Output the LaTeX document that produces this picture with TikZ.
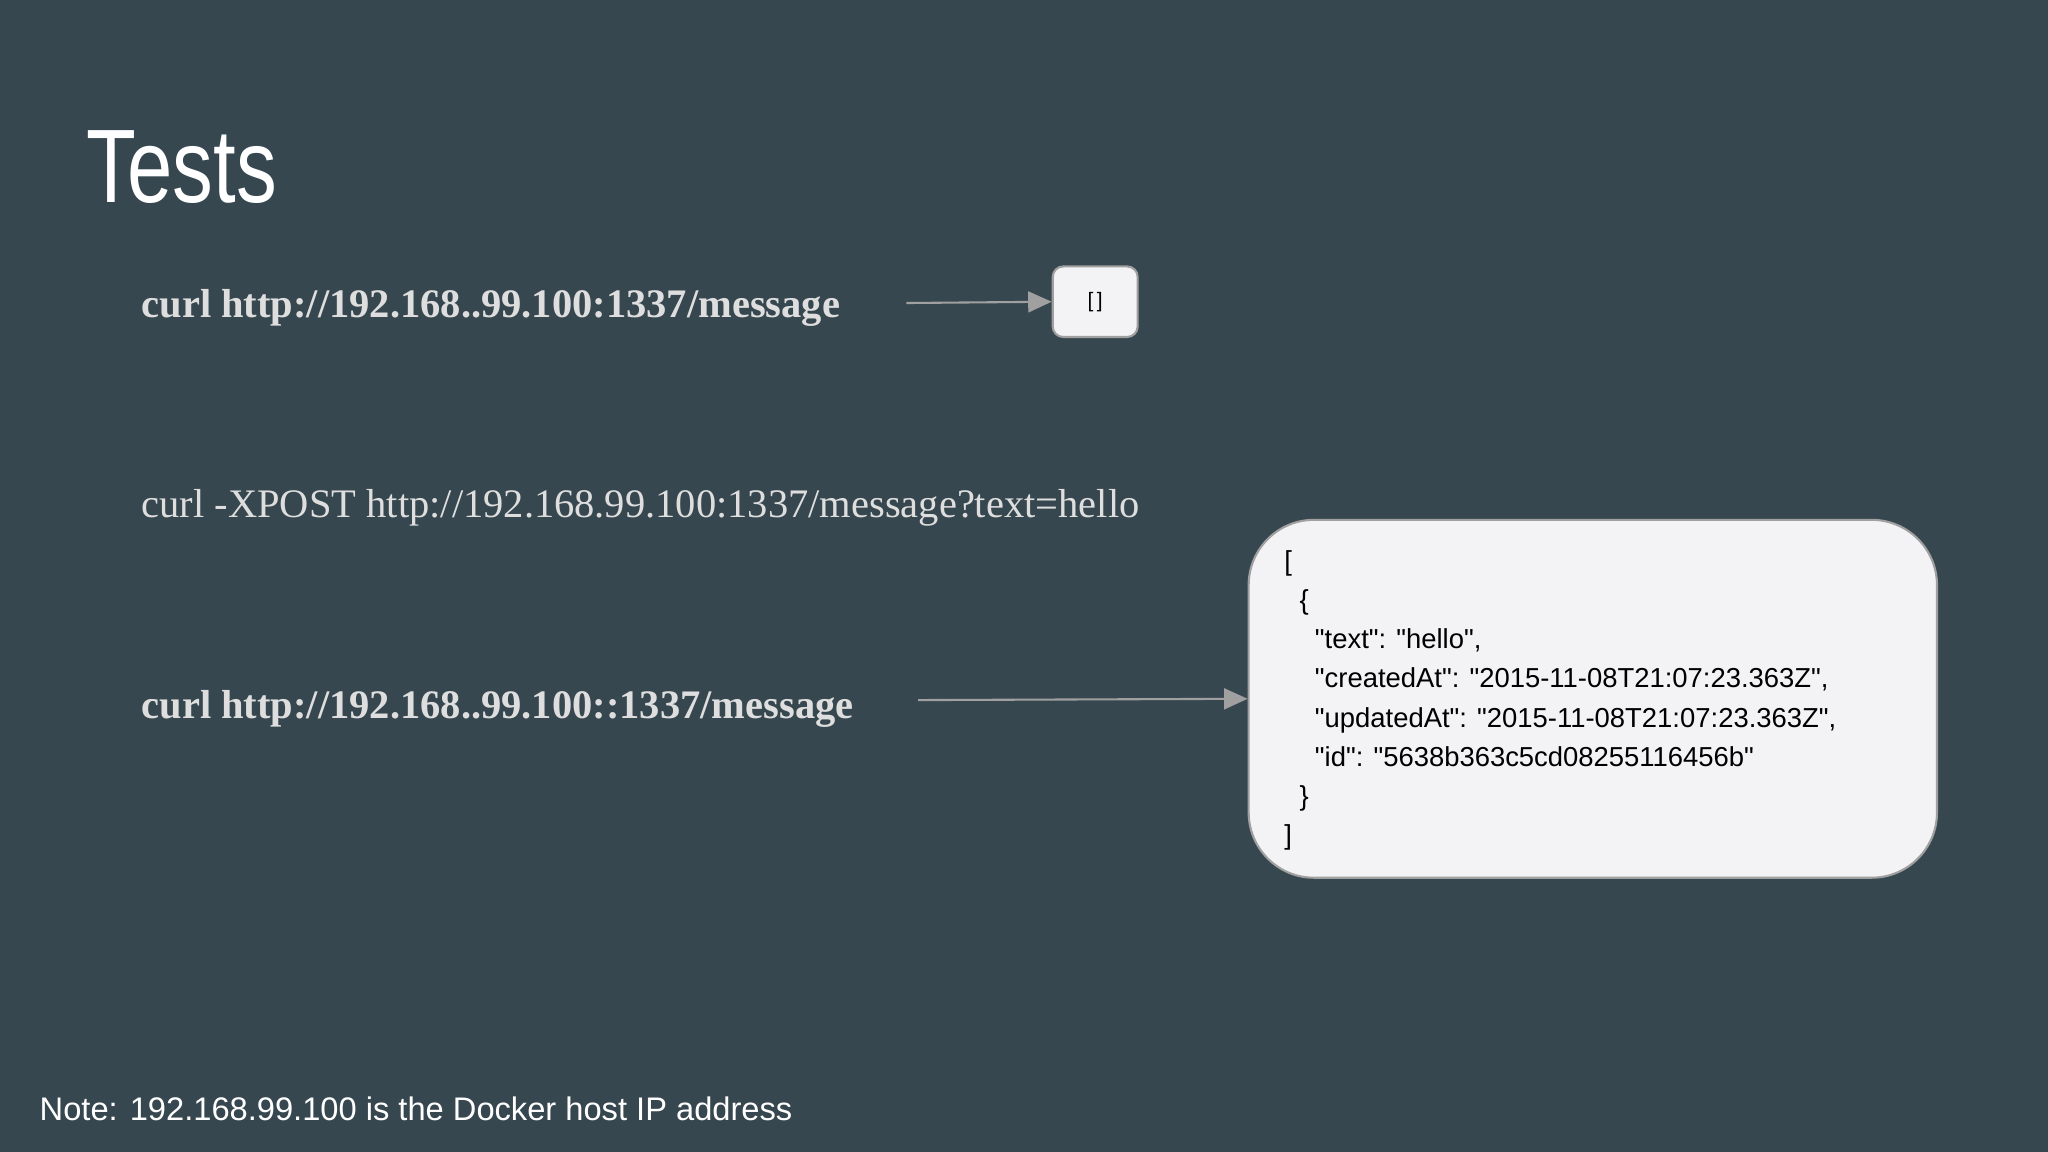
\documentclass[tikz,border=0pt]{standalone}
\usepackage{fontspec}
\setmainfont{Liberation Serif}
\newfontfamily\sansf{Liberation Sans}
\usetikzlibrary{arrows.meta}
\definecolor{bg}{RGB}{55,71,79}
\definecolor{boxfill}{RGB}{243,242,244}
\definecolor{curlc}{RGB}{222,222,222}
\definecolor{arr}{RGB}{160,160,160}
\tikzset{
 curl/.style={anchor=west,inner sep=0,text=curlc,font=\fontsize{15.5}{18}\selectfont},
 resp/.style={draw=arr,line width=0.8pt,fill=boxfill},
 conn/.style={draw=arr,line width=0.8pt,-{Triangle[length=9pt,width=8pt]}}
}
\begin{document}
\begin{tikzpicture}[x=0.5pt,y=-0.5pt]
\fill[bg] (0,0) rectangle (1568,882);
\useasboundingbox (0,0) rectangle (1568,882);
\node[anchor=west,inner sep=0,text=white] (title) at (66,128) {\scalebox{0.78}[1]{\sansf\fontsize{40}{44}\selectfont Tests}};
\node[curl] (c1) at (108,236) {\textbf{curl http://192.168..99.100:1337/message}};
\node[curl] (c2) at (108,389) {curl -XPOST http://192.168.99.100:1337/message?text=hello};
\node[curl] (c3) at (108,543) {\textbf{curl http://192.168..99.100::1337/message}};
\node[resp,rounded corners=4pt,minimum width=32.5pt,minimum height=27pt,font=\sansf\fontsize{8}{10}\selectfont] (r1) at (838.5,231) {[\,]};
\node[resp,rounded corners=25pt,minimum width=263.5pt,minimum height=137pt] (r2) at (1219.5,535) {};
\node[anchor=north west,inner sep=0,align=left,font=\sansf\fontsize{10.5}{15}\selectfont] (json) at (983,421) {[\\
\ \ \{\\
\ \ \ \ "text": "hello",\\
\ \ \ \ "createdAt": "2015-11-08T21:07:23.363Z",\\
\ \ \ \ "updatedAt": "2015-11-08T21:07:23.363Z",\\
\ \ \ \ "id": "5638b363c5cd08255116456b"\\
\ \ \}\\
]};
\coordinate (a1) at (694,232);
\coordinate (a3) at (703,536);
\draw[conn] (a1) -- (r1.west);
\draw[conn] (a3) -- (r2.west);
\node[anchor=west,inner sep=0,text=white,font=\sansf\fontsize{12.5}{15}\selectfont] (note) at (30,849) {Note: 192.168.99.100 is the Docker host IP address};
\end{tikzpicture}
\end{document}
